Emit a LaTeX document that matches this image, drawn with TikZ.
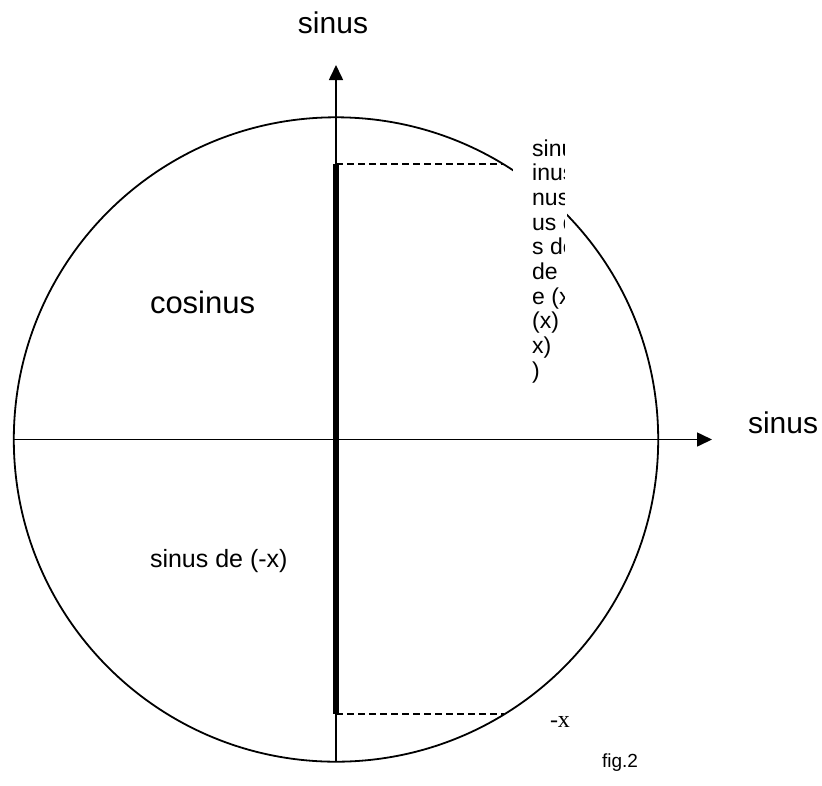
\documentclass[tikz,border=0pt]{standalone}
\usepackage{fontspec}
\setmainfont{Liberation Sans}
\newfontfamily\serifx{Liberation Serif}
\usetikzlibrary{arrows.meta}
\tikzset{
  axisline/.style={line width=1.6pt, -{Triangle[length=15pt,width=14pt]}},
  circ/.style={line width=1.8pt},
  thickseg/.style={line width=6pt},
  dashseg/.style={line width=1.5pt, dash pattern=on 7pt off 4pt},
  lbl/.style={inner sep=0pt, outer sep=0pt, anchor=base west},
  boxline/.style={inner sep=0pt, anchor=base west, font=\fontsize{23}{26}\selectfont},
}
\begin{document}
\begin{tikzpicture}[x=1pt,y=-1pt]
\useasboundingbox (0,0) rectangle (822,785);
\coordinate (O) at (336,439.5);
\coordinate (axL) at (13.5,439.5);
\coordinate (axR) at (712,439.5);
\coordinate (axB) at (336,762);
\coordinate (axT) at (336,65);
\coordinate (sT) at (336,164);
\coordinate (sB) at (336,714);
\coordinate (cT) at (502.7,164);
\coordinate (cB) at (504.3,714);
% circle
\draw[circ] (O) circle[radius=322.2];
% axes
\draw[axisline] (axL) -- (axR);
\draw[axisline] (axB) -- (axT);
% thick segment
\draw[thickseg] (sT) -- (sB);
% dashed projections
\draw[dashseg] (sT) -- (cT);
\draw[dashseg] (sB) -- (cB);
% text box (white) with wrapped, clipped text
\fill[white] (513,128) rectangle (567,390);
\begin{scope}
\clip (513,128) rectangle (564,390);
\node[boxline] (l1) at (532,156.0) {sinu};
\node[boxline] (l2) at (532,180.7) {inus};
\node[boxline] (l3) at (532,205.4) {nus};
\node[boxline] (l4) at (532,230.1) {us d};
\node[boxline] (l5) at (532,254.8) {s de};
\node[boxline] (l6) at (532,279.5) {de};
\node[boxline] (l7) at (532,304.2) {e (x};
\node[boxline] (l8) at (532,328.9) {(x)};
\node[boxline] (l9) at (532,353.6) {x)};
\node[boxline] (l10) at (532,378.3) {)};
\end{scope}
% labels
\node[inner sep=0pt, anchor=base, font=\fontsize{30}{36}\selectfont] (ytitle) at (333,33) {sinus};
\node[lbl, font=\fontsize{30}{36}\selectfont] (xtitle) at (748,433) {sinus};
\node[lbl, font=\fontsize{31}{37}\selectfont] (cos) at (150,313) {cosinus};
\node[lbl, font=\fontsize{25}{30}\selectfont] (sinm) at (150,567) {sinus de (-x)};
\node[lbl, font=\fontsize{24}{28}\serifx] (mx) at (550,727) {-x};
\node[lbl, font=\fontsize{19}{23}\selectfont] (fig) at (602,767) {fig.2};
\end{tikzpicture}
\end{document}
